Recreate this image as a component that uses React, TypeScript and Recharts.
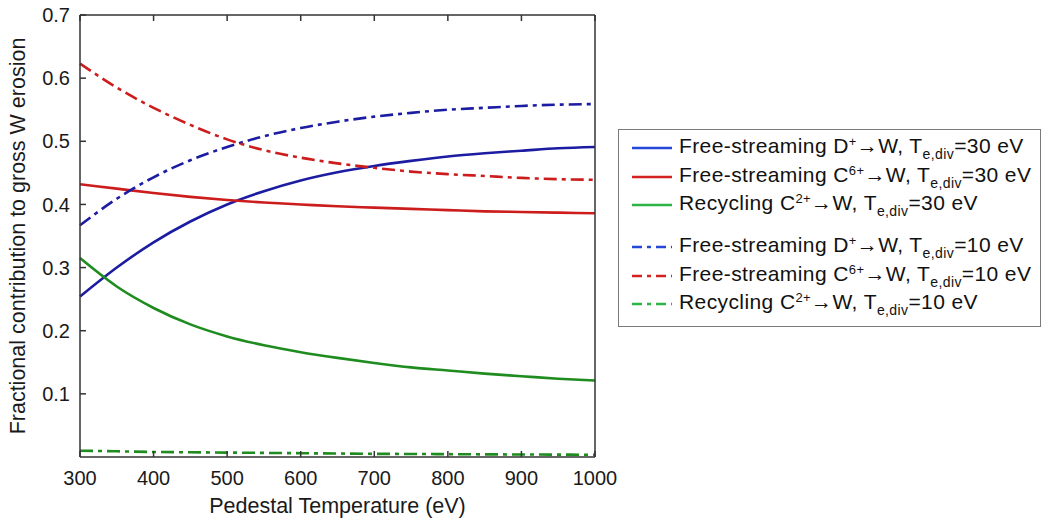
import React from "react";
import { LineChart, Line, XAxis, YAxis, CartesianGrid } from "recharts";

const temps = [300, 350, 400, 450, 500, 550, 600, 650, 700, 750, 800, 850, 900, 950, 1000];

const dFree30 = [0.254, 0.3, 0.34, 0.373, 0.4, 0.421, 0.438, 0.451, 0.461, 0.469, 0.476, 0.481, 0.485, 0.489, 0.491];
const cFree30 = [0.432, 0.425, 0.418, 0.412, 0.407, 0.403, 0.4, 0.397, 0.395, 0.393, 0.391, 0.389, 0.388, 0.387, 0.386];
const cRecyc30 = [0.315, 0.27, 0.236, 0.21, 0.191, 0.177, 0.166, 0.157, 0.149, 0.142, 0.137, 0.132, 0.128, 0.124, 0.121];
const dFree10 = [0.367, 0.409, 0.443, 0.47, 0.491, 0.508, 0.521, 0.531, 0.539, 0.545, 0.55, 0.553, 0.556, 0.558, 0.559];
const cFree10 = [0.623, 0.585, 0.553, 0.526, 0.503, 0.486, 0.474, 0.465, 0.458, 0.452, 0.448, 0.445, 0.442, 0.44, 0.439];
const cRecyc10 = [0.01, 0.009, 0.008, 0.0075, 0.007, 0.0065, 0.006, 0.0055, 0.005, 0.0048, 0.0045, 0.0042, 0.004, 0.0038, 0.0035];

const xTicks = [300, 400, 500, 600, 700, 800, 900, 1000];
const yTicks = [0.1, 0.2, 0.3, 0.4, 0.5, 0.6, 0.7];

const FONT = "'Liberation Sans', Arial, sans-serif";
const DASH = "13 5 4 5";
const AXIS = "#333";
const TXT = "#1a1a1a";

type Series = {
  key: string;
  values: number[];
  color: string;
  legendColor: string;
  dashed: boolean;
  ion: string;
  charge: string;
  te: string;
  kind: string;
};

const series: Series[] = [
  { key: "dFree30", values: dFree30, color: "#1c1ca3", legendColor: "#2448d8", dashed: false, kind: "Free-streaming", ion: "D", charge: "+", te: "30" },
  { key: "cFree30", values: cFree30, color: "#cc1c1c", legendColor: "#d42222", dashed: false, kind: "Free-streaming", ion: "C", charge: "6+", te: "30" },
  { key: "cRecyc30", values: cRecyc30, color: "#1e8c1e", legendColor: "#2cb446", dashed: false, kind: "Recycling", ion: "C", charge: "2+", te: "30" },
  { key: "dFree10", values: dFree10, color: "#1c1ca3", legendColor: "#2448d8", dashed: true, kind: "Free-streaming", ion: "D", charge: "+", te: "10" },
  { key: "cFree10", values: cFree10, color: "#cc1c1c", legendColor: "#d42222", dashed: true, kind: "Free-streaming", ion: "C", charge: "6+", te: "10" },
  { key: "cRecyc10", values: cRecyc10, color: "#1e8c1e", legendColor: "#2cb446", dashed: true, kind: "Recycling", ion: "C", charge: "2+", te: "10" },
];

const data = temps.map((t, i) => {
  const row: Record<string, number> = { t };
  series.forEach((s) => (row[s.key] = s.values[i]));
  return row;
});

// inward tick marks, drawn next to the tick labels
const LeftTick = (p: any) => (
  <g>
    <line x1={p.x + 10} y1={p.y} x2={p.x + 16} y2={p.y} stroke={AXIS} strokeWidth={1.5} />
    <text x={p.x} y={p.y} dy="0.36em" textAnchor="end" fill={TXT} fontSize={20} fontFamily={FONT}>
      {Number(p.payload.value).toFixed(1)}
    </text>
  </g>
);
const BottomTick = (p: any) => (
  <g>
    <line x1={p.x} y1={p.y - 14} x2={p.x} y2={p.y - 20} stroke={AXIS} strokeWidth={1.5} />
    <text x={p.x} y={p.y} dy="0.71em" textAnchor="middle" fill={TXT} fontSize={20} fontFamily={FONT}>
      {p.payload.value}
    </text>
  </g>
);
const RightTick = (p: any) => <line x1={p.x} y1={p.y} x2={p.x - 6} y2={p.y} stroke={AXIS} strokeWidth={1.5} />;
const TopTick = (p: any) => <line x1={p.x} y1={p.y} x2={p.x} y2={p.y + 6} stroke={AXIS} strokeWidth={1.5} />;

function LegendBox() {
  return (
    <div
      style={{
        position: "absolute",
        left: 618,
        top: 129,
        width: 421,
        height: 196,
        border: "1.5px solid #7a7a7a",
        background: "#fff",
        fontFamily: FONT,
        fontSize: 21,
        letterSpacing: 0.4,
        color: "#111",
      }}
    >
      {series.map((s, i) => (
        <div
          key={s.key}
          style={{
            position: "absolute",
            left: 12,
            top: i < 3 ? 4 + i * 28.5 : 103 + (i - 3) * 28.5,
            height: 28,
            display: "flex",
            alignItems: "center",
            whiteSpace: "nowrap",
          }}
        >
          <svg width={42} height={6} style={{ marginRight: 6 }}>
            <line
              x1={1}
              y1={3}
              x2={41}
              y2={3}
              stroke={s.legendColor}
              strokeWidth={2.5}
              strokeDasharray={s.dashed ? "10 5 4 5" : undefined}
            />
          </svg>
          <span>
            {s.kind} {s.ion}
            <sup style={{ fontSize: 13, verticalAlign: 7 }}>{s.charge}</sup>
            {"\u2192W, T"}
            <sub style={{ fontSize: 14, verticalAlign: -6 }}>e,div</sub>
            {`=${s.te} eV`}
          </span>
        </div>
      ))}
    </div>
  );
}

export default function App() {
  return (
    <div style={{ position: "absolute", left: 0, top: 0, width: 1041, height: 521, background: "#fff" }}>
      <LineChart
        width={1041}
        height={521}
        data={data}
        margin={{ top: 14, right: 445, bottom: 0, left: 0 }}
        style={{ fontFamily: FONT }}
      >
        <CartesianGrid stroke="#ececec" strokeWidth={1} horizontalValues={yTicks} verticalValues={xTicks} />
        <XAxis
          xAxisId="b"
          dataKey="t"
          type="number"
          domain={[300, 1000]}
          ticks={xTicks}
          height={64}
          tickSize={0}
          tickMargin={14}
          axisLine={{ stroke: AXIS, strokeWidth: 1.5 }}
          tickLine={false}
          tick={BottomTick}
          label={{
            value: "Pedestal Temperature (eV)",
            position: "insideBottom",
            offset: 8,
            style: { fill: TXT, fontSize: 21.5, fontFamily: FONT },
          }}
        />
        <XAxis
          xAxisId="top"
          orientation="top"
          dataKey="t"
          type="number"
          domain={[300, 1000]}
          ticks={xTicks}
          height={1}
          tickSize={0}
          tickMargin={0}
          tick={TopTick}
          tickLine={false}
          axisLine={{ stroke: AXIS, strokeWidth: 1.5 }}
        />
        <YAxis
          yAxisId="l"
          type="number"
          domain={[0, 0.7]}
          ticks={yTicks}
          width={80}
          tickSize={0}
          tickMargin={10}
          axisLine={{ stroke: AXIS, strokeWidth: 1.5 }}
          tickLine={false}
          tick={LeftTick}
          label={{
            value: "Fractional contribution to gross W erosion",
            angle: -90,
            position: "insideLeft",
            offset: 17,
            style: { textAnchor: "middle", fill: TXT, fontSize: 21.5, fontFamily: FONT },
          }}
        />
        <YAxis
          yAxisId="r"
          orientation="right"
          type="number"
          domain={[0, 0.7]}
          ticks={yTicks}
          width={1}
          tickSize={0}
          tickMargin={0}
          tick={RightTick}
          tickLine={false}
          axisLine={{ stroke: AXIS, strokeWidth: 1.5 }}
        />
        {series.map((s) => (
          <Line
            key={s.key}
            xAxisId="b"
            yAxisId="l"
            type="monotone"
            dataKey={s.key}
            stroke={s.color}
            strokeWidth={2.6}
            strokeDasharray={s.dashed ? DASH : undefined}
            dot={false}
            activeDot={false}
            isAnimationActive={false}
          />
        ))}
      </LineChart>
      <LegendBox />
    </div>
  );
}
